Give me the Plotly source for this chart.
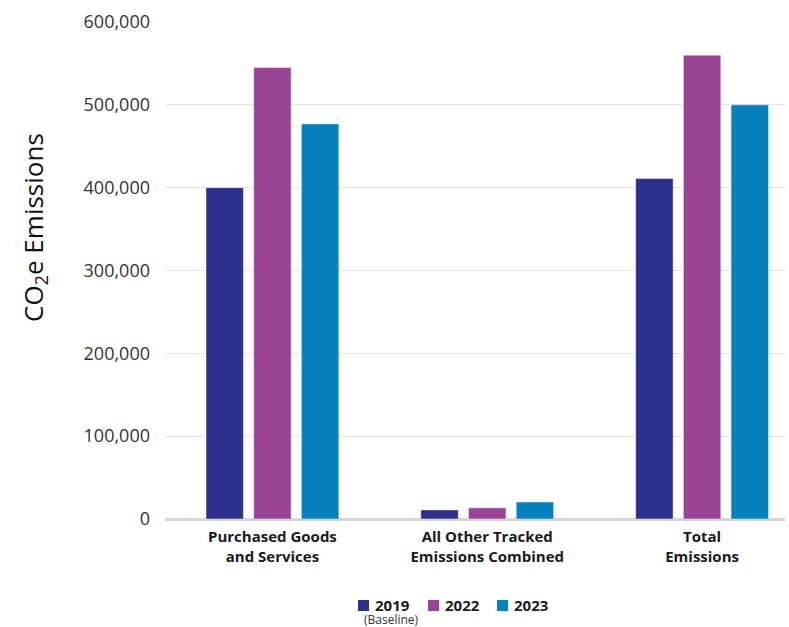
import plotly.graph_objects as go

categories = ["Purchased Goods<br>and Services", "All Other Tracked<br>Emissions Combined", "Total<br>Emissions"]
years = ["2019", "2022", "2023"]
year_notes = ["(Baseline)", "", ""]
values_2019 = [400000, 11000, 411000]
values_2022 = [545000, 13500, 560000]
values_2023 = [477000, 20500, 500000]
colors = ["#2E318B", "#984496", "#0681BE"]
tick_vals = [0, 100000, 200000, 300000, 400000, 500000, 600000]
tick_text = ["0", "100,000", "200,000", "300,000", "400,000", "500,000", "600,000"]

FONT = "Open Sans, Noto Sans, sans-serif"
W, H = 789, 627
ML, MR, MT, MB = 165, 4, 22, 108
PW, PH = W - ML - MR, H - MT - MB


def px_x(px):
    return (px - ML) / PW


def px_y(py):
    return (H - MB - py) / PH


cat_labels = ["<b>" + c.replace("<br>", "</b><br><b>") + "</b>" for c in categories]

fig = go.Figure()
for yr, vals, col in zip(years, [values_2019, values_2022, values_2023], colors):
    fig.add_trace(go.Bar(
        x=cat_labels, y=vals, name=yr,
        marker=dict(color=col, line=dict(color="rgba(255,255,255,0.45)", width=1)),
    ))

fig.update_layout(
    width=W, height=H,
    margin=dict(l=ML, r=MR, t=MT, b=MB, autoexpand=False),
    paper_bgcolor="white", plot_bgcolor="white",
    barmode="group", bargap=0.334, bargroupgap=0.215,
    font=dict(family=FONT, color="#222222"),
    showlegend=False,
)
fig.update_xaxes(range=[-0.5, 2.386], showgrid=False, showline=False, ticks="",
                 automargin=False, ticklabelstandoff=7,
                 tickfont=dict(size=15, color="#1a1a1a", family=FONT))
fig.update_yaxes(range=[0, 600000], tickvals=tick_vals, ticktext=tick_text,
                 showgrid=True, gridcolor="#e3e3e3", gridwidth=1,
                 zeroline=True, zerolinecolor="#d6d6d6", zerolinewidth=3,
                 automargin=False, ticklabelstandoff=14, showline=False, ticks="",
                 tickfont=dict(size=18, color="#333333", family=FONT))

fig.add_annotation(text="CO<sub>2</sub>e Emissions", textangle=-90,
                   xref="paper", yref="paper", x=px_x(34), y=px_y(228),
                   xanchor="center", yanchor="middle",
                   showarrow=False, font=dict(size=26, color="#111111", family=FONT))

# custom legend (square + bold year, optional note below)
sq_left = [358, 428, 497]
for yr, note, col, sx in zip(years, year_notes, colors, sq_left):
    fig.add_shape(type="rect", xref="paper", yref="paper",
                  x0=px_x(sx), x1=px_x(sx + 11), y0=px_y(611), y1=px_y(600),
                  fillcolor=col, line=dict(width=0))
    fig.add_annotation(text="<b>" + yr + "</b>", xref="paper", yref="paper",
                       x=px_x(sx + 15), y=px_y(605), xanchor="left", yanchor="middle",
                       showarrow=False, font=dict(size=15, color="#1a1a1a", family=FONT))
    if note:
        fig.add_annotation(text=note, xref="paper", yref="paper",
                           x=px_x(sx + 33), y=px_y(619), xanchor="center", yanchor="middle",
                           showarrow=False, font=dict(size=12, color="#333333", family=FONT))

fig.write_html("out.html", config={"displayModeBar": False},
               post_script="document.body.style.margin='0';document.body.style.overflow='hidden';")
